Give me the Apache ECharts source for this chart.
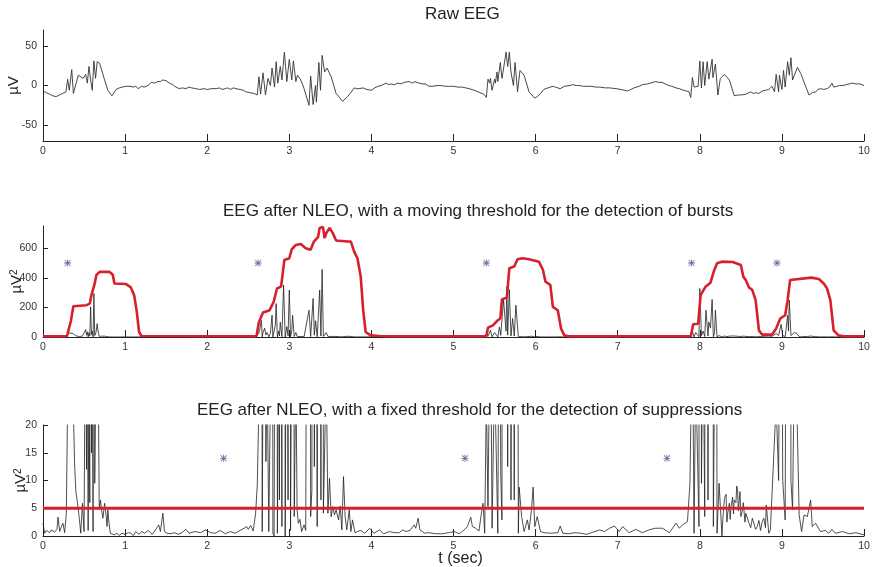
<!DOCTYPE html>
<html>
<head>
<meta charset="utf-8">
<title>EEG NLEO</title>
<script src="https://cdn.jsdelivr.net/npm/echarts@6/dist/echarts.min.js"></script>
<style>
  html, body { margin: 0; padding: 0; background: #fff; }
  #chart { width: 872px; height: 567px; }
</style>
</head>
<body>
<div id="chart"></div>
<script>
// tick values
const rawTicks = [-50, 0, 50];
const nleoTicks = [0, 200, 400, 600];
const zoomTicks = [0, 5, 10, 15, 20];

// raw EEG, [t (sec), µV]
const rawEEG = [
  [0.00,-7],[0.04,-9],[0.08,-11],[0.12,-13],[0.16,-14],[0.20,-12],[0.24,-10],[0.28,-8],[0.30,8],[0.32,-6],
  [0.35,20],[0.37,-10],[0.43,13],[0.49,9],[0.52,14],[0.54,3],[0.56,24],[0.58,7],[0.60,-6],[0.62,31],
  [0.64,9],[0.66,30],[0.69,28],[0.75,7],[0.79,-6],[0.84,-13],[0.89,-5],[0.93,-3],[0.97,-2],[1.01,-1],
  [1.06,-1],[1.10,-2],[1.13,-1],[1.16,-4],[1.18,-3],[1.20,-1],[1.23,-2],[1.26,-1],[1.29,1],[1.32,4],
  [1.36,3],[1.40,5],[1.43,5],[1.46,7],[1.48,5],[1.50,6],[1.54,3],[1.58,1],[1.62,-2],[1.66,-4],
  [1.70,-3],[1.74,-4],[1.78,-2],[1.81,-3],[1.86,-4],[1.91,-5],[1.96,-4],[2.00,-5],[2.05,-4],[2.11,-4],
  [2.15,-3],[2.18,-5],[2.22,-4],[2.25,-3],[2.28,-5],[2.32,-3],[2.35,-4],[2.40,-5],[2.44,-6],[2.47,-8],
  [2.52,-9],[2.57,-10],[2.61,-12],[2.63,11],[2.65,-11],[2.68,16],[2.71,-12],[2.74,9],[2.77,0],[2.79,22],
  [2.82,-2],[2.84,30],[2.86,3],[2.89,24],[2.91,7],[2.94,42],[2.97,5],[3.00,33],[3.03,7],[3.05,31],
  [3.08,5],[3.10,13],[3.14,7],[3.18,-4],[3.24,-25],[3.26,12],[3.29,-24],[3.32,0],[3.33,-21],[3.36,29],
  [3.38,-6],[3.40,38],[3.43,17],[3.46,22],[3.51,11],[3.57,-10],[3.65,-20],[3.71,-14],[3.75,-9],[3.79,-3],
  [3.82,-4],[3.85,-4],[3.90,-3],[3.94,-5],[4.00,-6],[4.04,-3],[4.08,-1],[4.12,0],[4.18,3],[4.21,1],
  [4.24,2],[4.28,1],[4.32,3],[4.36,2],[4.40,4],[4.46,5],[4.50,3],[4.53,5],[4.58,3],[4.62,2],
  [4.66,2],[4.70,-1],[4.75,-1],[4.80,0],[4.85,0],[4.90,-1],[4.95,-1],[5.00,-1],[5.05,-2],[5.10,-2],
  [5.15,-3],[5.19,-4],[5.25,-6],[5.30,-8],[5.37,-11],[5.40,-15],[5.42,8],[5.44,3],[5.45,9],[5.47,-6],
  [5.50,8],[5.51,3],[5.53,17],[5.54,5],[5.57,29],[5.59,9],[5.60,15],[5.64,42],[5.66,24],[5.68,42],
  [5.70,17],[5.73,0],[5.75,29],[5.78,-8],[5.81,19],[5.86,13],[5.92,-8],[5.99,-16],[6.02,-14],[6.06,-10],
  [6.10,-5],[6.15,-3],[6.21,-1],[6.24,-2],[6.27,-3],[6.30,-4],[6.32,-5],[6.35,-1],[6.37,1],[6.42,0],
  [6.45,1],[6.50,0],[6.53,0],[6.58,-1],[6.63,-1],[6.68,-1],[6.73,-2],[6.78,-2],[6.85,-3],[6.90,-3],
  [6.98,-4],[7.04,-5],[7.08,-6],[7.12,-7],[7.16,-5],[7.20,-3],[7.26,-1],[7.30,1],[7.36,2],[7.40,3],
  [7.46,5],[7.50,4],[7.54,4],[7.58,2],[7.62,0],[7.66,-1],[7.71,-3],[7.75,-4],[7.80,-6],[7.84,-7],
  [7.87,-8],[7.89,-15],[7.91,10],[7.93,-2],[7.98,-1],[8.00,31],[8.02,-3],[8.04,30],[8.06,0],[8.09,30],
  [8.11,8],[8.15,33],[8.16,10],[8.19,27],[8.22,-12],[8.25,9],[8.30,14],[8.36,7],[8.42,-13],[8.46,-12],
  [8.50,-12],[8.52,-11],[8.56,-11],[8.58,-9],[8.62,-8],[8.65,-10],[8.68,-9],[8.72,-10],[8.76,-7],[8.80,-6],
  [8.84,-5],[8.88,-1],[8.91,-8],[8.93,14],[8.96,-8],[8.97,13],[9.00,-5],[9.02,19],[9.04,-2],[9.07,30],
  [9.09,13],[9.11,35],[9.13,7],[9.15,5],[9.19,23],[9.23,15],[9.33,-12],[9.37,-9],[9.41,-8],[9.44,-5],
  [9.47,-4],[9.51,-5],[9.55,-4],[9.58,-2],[9.61,3],[9.63,-2],[9.67,-1],[9.70,0],[9.74,0],[9.78,1],
  [9.82,2],[9.86,3],[9.90,2],[9.95,2],[10.00,0]
];

// NLEO output, [t (sec), µV²]
const nleo = [
  [0.000,2.3],[0.020,0.5],[0.040,1.0],[0.061,0.8],[0.081,0.6],[0.100,1.1],[0.122,1.4],[0.140,0.7],[0.154,0.5],[0.170,1.2],
  [0.183,3.4],[0.203,0.8],[0.220,1.5],[0.243,2.3],[0.264,0.6],[0.284,4.1],[0.300,24],[0.330,27],[0.350,26],[0.373,21],
  [0.385,13],[0.400,8],[0.420,6],[0.440,3.5],[0.460,0.5],[0.480,5.9],[0.500,0.8],[0.520,50],[0.530,12],[0.540,35],
  [0.550,1.0],[0.560,30],[0.570,6],[0.580,204],[0.590,15],[0.600,40],[0.610,0.8],[0.620,294],[0.630,9.5],[0.645,30],
  [0.660,90],[0.675,25],[0.685,4.7],[0.700,6.5],[0.710,5],[0.730,3.2],[0.750,5.9],[0.770,3.5],[0.780,1.7],[0.790,4.7],
  [0.800,2.9],[0.820,0.5],[0.840,0.8],[0.870,0.2],[0.900,0.5],[0.930,0.1],[0.960,0.5],[1.000,0.3],[1.040,0.6],[1.070,0.5],
  [1.100,0.1],[1.130,0.8],[1.170,0.3],[1.200,0.8],[1.240,0.5],[1.280,1.0],[1.330,0.3],[1.370,1.1],[1.410,2.0],[1.430,0.8],
  [1.460,4.1],[1.480,0.8],[1.510,0.5],[1.560,0.4],[1.600,0.6],[1.650,0.3],[1.700,0.7],[1.740,1.2],[1.780,0.5],[1.850,0.8],
  [1.920,0.6],[1.980,1.1],[2.040,0.6],[2.100,0.5],[2.160,1.0],[2.220,0.4],[2.280,0.8],[2.340,0.5],[2.400,1.0],[2.450,1.4],
  [2.480,1.7],[2.500,1.2],[2.530,1.9],[2.560,0.9],[2.590,4.1],[2.610,9.2],[2.625,20],[2.640,50],[2.660,113],[2.670,0.8],
  [2.680,30],[2.700,60],[2.715,13.4],[2.730,30],[2.750,0.8],[2.770,25],[2.790,147],[2.800,0.5],[2.815,0],[2.830,80],
  [2.840,226],[2.855,0.5],[2.870,40],[2.880,6.5],[2.890,100],[2.910,1.7],[2.930,351],[2.950,0],[2.970,70],[2.985,6.5],
  [3.000,317],[3.015,1.0],[3.030,40],[3.040,147],[3.060,3.5],[3.080,30],[3.095,4.7],[3.110,2.3],[3.130,3.0],[3.150,0.8],
  [3.180,2.0],[3.200,1.0],[3.240,181],[3.260,3.5],[3.275,8.3],[3.290,260],[3.305,12.5],[3.320,110],[3.340,1.7],[3.370,317],
  [3.385,6.5],[3.400,457],[3.415,4.1],[3.450,30],[3.470,4.1],[3.490,10.4],[3.510,3.5],[3.530,5.3],[3.550,3.8],[3.570,4.7],
  [3.600,2.9],[3.620,5.4],[3.640,1.1],[3.660,10.7],[3.680,3.5],[3.700,1.1],[3.730,4.7],[3.750,0.8],[3.770,2.9],[3.800,0.6],
  [3.830,0.8],[3.870,1.0],[3.920,0.5],[3.980,1.4],[4.030,0.5],[4.100,1.1],[4.150,0.4],[4.220,0.8],[4.280,0.6],[4.340,0.6],
  [4.380,1.1],[4.420,0.8],[4.470,1.0],[4.520,2.0],[4.540,1.4],[4.570,3.2],[4.590,1.1],[4.650,0.5],[4.700,0.6],[4.780,0.4],
  [4.870,0.4],[4.940,0.6],[5.010,0.8],[5.070,0.4],[5.130,1.1],[5.170,1.7],[5.210,3.4],[5.230,1.7],[5.270,1.4],[5.310,0.9],
  [5.340,4.1],[5.360,5.9],[5.380,0.5],[5.400,25],[5.420,5.3],[5.450,45],[5.470,1.4],[5.500,30],[5.540,0.5],[5.560,68],
  [5.575,11.6],[5.590,2.9],[5.610,249],[5.640,40],[5.650,340],[5.660,12.5],[5.680,321],[5.700,6.5],[5.720,125],[5.740,6.5],
  [5.760,215],[5.790,0.5],[5.800,8.8],[5.830,3.5],[5.860,0.8],[5.900,2.9],[5.920,1.1],[5.950,4.7],[5.970,8.8],[5.990,1.7],
  [6.020,3.5],[6.060,0.8],[6.100,0.6],[6.180,0.5],[6.270,0.6],[6.300,1.8],[6.330,0.5],[6.400,0.4],[6.480,0.6],[6.550,0.5],
  [6.620,0.3],[6.680,0.6],[6.780,1.1],[6.840,0.8],[6.900,1.4],[6.960,1.8],[7.020,0.8],[7.060,1.7],[7.140,0.6],[7.220,1.2],
  [7.300,0.6],[7.380,1.1],[7.460,1.4],[7.545,1.4],[7.630,0.6],[7.710,2.3],[7.750,1.4],[7.790,2.0],[7.850,2.6],[7.880,9.5],
  [7.910,40],[7.930,0.5],[7.950,30],[7.990,1.7],[8.000,328],[8.020,9.5],[8.040,40],[8.060,3.5],[8.075,181],[8.100,6.5],
  [8.110,102],[8.130,60],[8.150,254],[8.165,1.7],[8.180,30],[8.190,181],[8.210,0.5],[8.235,9.5],[8.270,0],[8.280,3.0],
  [8.300,6.8],[8.320,7.5],[8.330,2.5],[8.340,4.1],[8.360,5.9],[8.370,3.0],[8.380,5.3],[8.400,7.0],[8.410,4.0],[8.420,6.5],
  [8.440,6.0],[8.450,9.0],[8.460,8.3],[8.470,4.5],[8.480,6.5],[8.490,8.0],[8.500,3.5],[8.520,4.7],[8.530,6.0],[8.550,2.5],
  [8.560,4.1],[8.580,4.0],[8.600,2.3],[8.620,1.5],[8.640,3.2],[8.660,3.5],[8.680,1.2],[8.700,1.7],[8.720,2.8],[8.740,1.0],
  [8.760,2.6],[8.780,3.2],[8.800,1.5],[8.810,5.6],[8.840,0.5],[8.860,1.1],[8.870,1.0],[8.930,24],[8.960,10],[8.990,86],
  [9.010,10],[9.040,2.9],[9.050,50],[9.070,147],[9.080,40],[9.090,249],[9.110,10],[9.130,4.7],[9.150,30],[9.180,25],
  [9.210,3.8],[9.240,0.8],[9.270,3.8],[9.310,3.5],[9.350,6.5],[9.370,1.7],[9.410,2.3],[9.470,0.8],[9.530,1.0],[9.570,0.5],
  [9.610,1.2],[9.650,0.5],[9.740,0.8],[9.820,0.4],[9.900,0.6],[10.000,0.2]
];

// moving threshold for bursts, [t (sec), µV²]
const movingThreshold = [
  [0.00,5],[0.29,5],[0.30,23],[0.34,110],[0.37,208],[0.53,215],[0.57,226],[0.59,283],[0.63,362],[0.65,419],
  [0.69,440],[0.81,440],[0.85,420],[0.87,362],[1.01,358],[1.07,335],[1.11,283],[1.14,181],[1.17,34],[1.20,7],
  [2.60,5],[2.63,102],[2.68,165],[2.76,181],[2.81,238],[2.85,328],[2.90,340],[2.94,521],[3.00,532],[3.03,593],
  [3.08,622],[3.14,629],[3.20,600],[3.26,589],[3.30,645],[3.35,675],[3.37,736],[3.41,743],[3.43,668],[3.45,702],
  [3.49,736],[3.53,702],[3.57,652],[3.71,645],[3.75,645],[3.79,577],[3.83,532],[3.87,408],[3.90,181],[3.93,34],
  [3.99,11],[4.10,7],[4.20,5],[5.40,5],[5.42,63],[5.48,79],[5.54,113],[5.57,125],[5.59,254],[5.65,267],
  [5.68,464],[5.74,476],[5.78,525],[5.84,532],[5.92,525],[6.04,509],[6.09,453],[6.12,374],[6.18,351],[6.21,204],
  [6.27,181],[6.31,57],[6.35,11],[6.41,5],[7.89,5],[7.92,86],[7.98,90],[8.01,283],[8.07,340],[8.13,367],
  [8.17,442],[8.21,498],[8.27,509],[8.40,507],[8.50,487],[8.53,408],[8.56,385],[8.60,335],[8.64,317],[8.68,249],
  [8.72,45],[8.76,16],[8.88,16],[8.93,57],[8.98,125],[9.04,147],[9.07,249],[9.10,385],[9.12,396],[9.36,401],
  [9.45,392],[9.51,362],[9.55,328],[9.59,249],[9.63,45],[9.69,11],[9.75,5],[10.00,5]
];

const fixedThreshold = 5;

// detected events (asterisks)
const burstMarks = [0.30, 2.62, 5.40, 7.90, 8.94];
const burstMarkLevel = 500;
const suppressionMarks = [2.20, 5.14, 7.60];
const suppressionMarkLevel = 14;

const titles = [
  'Raw EEG',
  'EEG after NLEO, with a moving threshold for the detection of bursts',
  'EEG after NLEO, with a fixed threshold for the detection of suppressions'
];

const FONT = '"Liberation Sans", Arial, sans-serif';
const ASTERISK = 'path://M4.4,0h1.2v10h-1.2z M0,4.4h10v1.2h-10z M1.2,0.4l8.4,8.4l-0.8,0.8l-8.4,-8.4z M8.8,0.4l0.8,0.8l-8.4,8.4l-0.8,-0.8z';

const chart = echarts.init(document.getElementById('chart'));

const xAxisFor = (gridIndex, name) => ({
  type: 'value',
  gridIndex: gridIndex,
  min: 0,
  max: 10,
  interval: 1,
  name: name || '',
  nameLocation: 'middle',
  nameGap: 15,
  nameMoveOverlap: false,
  nameTextStyle: { fontFamily: FONT, fontSize: 16, color: '#222', padding: [0, 0, 0, 14] },
  axisLine: { show: true, onZero: false, lineStyle: { color: '#222', width: 1 } },
  axisTick: { show: true, inside: true, length: 7, lineStyle: { color: '#222' } },
  axisLabel: { fontFamily: FONT, fontSize: 10.5, color: '#333', margin: 5 },
  splitLine: { show: false }
});

const yAxisFor = (gridIndex, min, max, ticks, name, gap) => ({
  type: 'value',
  gridIndex: gridIndex,
  min: min,
  max: max,
  name: name,
  nameLocation: 'middle',
  nameRotate: 90,
  nameGap: gap,
  nameMoveOverlap: false,
  nameTextStyle: {
    fontFamily: FONT, fontSize: 15, color: '#222',
    rich: { sup: { fontFamily: FONT, fontSize: 10, color: '#222', verticalAlign: 'top' } }
  },
  axisLine: { show: true, lineStyle: { color: '#222', width: 1 } },
  axisTick: { show: true, inside: true, length: 5, customValues: ticks, lineStyle: { color: '#222' } },
  axisLabel: { fontFamily: FONT, fontSize: 10.5, color: '#333', margin: 6, customValues: ticks },
  splitLine: { show: false }
});

const titleStyle = { fontFamily: FONT, fontSize: 17, fontWeight: 'normal', color: '#222' };

const option = {
  animation: false,
  backgroundColor: '#fff',
  title: [
    { text: titles[0], left: 425, top: 6, padding: 0, textStyle: titleStyle },
    { text: titles[1], left: 223, top: 203, padding: 0, textStyle: titleStyle },
    { text: titles[2], left: 197, top: 402, padding: 0, textStyle: titleStyle }
  ],
  grid: [
    { left: 43, right: 8, top: 30, height: 111, containLabel: false, outerBoundsMode: 'none' },
    { left: 43, right: 8, top: 226, height: 111, containLabel: false, outerBoundsMode: 'none' },
    { left: 43, right: 8, top: 425, height: 111, containLabel: false, outerBoundsMode: 'none' }
  ],
  xAxis: [xAxisFor(0), xAxisFor(1), xAxisFor(2, 't (sec)')],
  yAxis: [
    yAxisFor(0, -70, 70, rawTicks, 'µV', 22),
    yAxisFor(1, 0, 750, nleoTicks, 'µV{sup|2}', 19),
    yAxisFor(2, 0, 20, zoomTicks, 'µV{sup|2}', 15)
  ],
  series: [
    {
      type: 'line', xAxisIndex: 0, yAxisIndex: 0, data: rawEEG,
      showSymbol: false, lineStyle: { color: '#333', width: 0.9 }
    },
    {
      type: 'line', xAxisIndex: 1, yAxisIndex: 1, data: nleo,
      showSymbol: false, lineStyle: { color: '#222', width: 0.8 }
    },
    {
      type: 'line', xAxisIndex: 1, yAxisIndex: 1, data: movingThreshold,
      showSymbol: false, lineStyle: { color: '#d7202b', width: 2.6 }
    },
    {
      type: 'scatter', xAxisIndex: 1, yAxisIndex: 1,
      data: burstMarks.map(t => [t, burstMarkLevel]),
      symbol: ASTERISK, symbolSize: 7, itemStyle: { color: '#3c4a8c' }
    },
    {
      type: 'line', xAxisIndex: 2, yAxisIndex: 2, data: nleo,
      showSymbol: false, clip: true, lineStyle: { color: '#222', width: 0.8 }
    },
    {
      type: 'line', xAxisIndex: 2, yAxisIndex: 2,
      data: [[0, fixedThreshold], [10, fixedThreshold]],
      showSymbol: false, lineStyle: { color: '#d7202b', width: 3 }
    },
    {
      type: 'scatter', xAxisIndex: 2, yAxisIndex: 2,
      data: suppressionMarks.map(t => [t, suppressionMarkLevel]),
      symbol: ASTERISK, symbolSize: 7, itemStyle: { color: '#3c4a8c' }
    }
  ]
};

chart.setOption(option);
window.addEventListener('resize', () => chart.resize());
</script>
</body>
</html>
